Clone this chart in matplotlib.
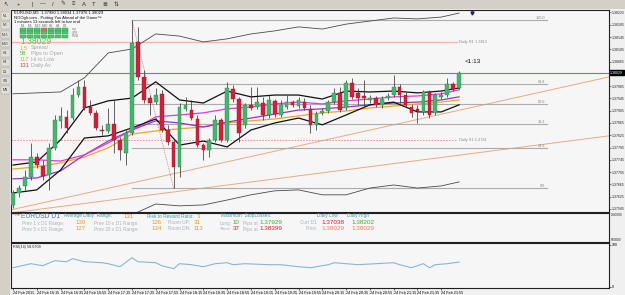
import numpy as np
import matplotlib.pyplot as plt
from matplotlib.patches import Rectangle
from matplotlib.transforms import blended_transform_factory

plt.rcParams['font.family'] = ['Liberation Sans', 'DejaVu Sans']

W, H = 625, 295

# EURUSD M5 candles
opens = [1.37598, 1.37637, 1.37660, 1.37689, 1.37754, 1.37725, 1.37696, 1.37784, 1.37872, 1.37885,
         1.37881, 1.37956, 1.37982, 1.37917, 1.37898, 1.37842, 1.37839, 1.37862, 1.37810, 1.37767,
         1.37833, 1.38129, 1.38015, 1.37946, 1.37933, 1.37960, 1.37842, 1.37803, 1.37722, 1.37911,
         1.37907, 1.37878, 1.37793, 1.37777, 1.37810, 1.37875, 1.37810, 1.37976, 1.37943, 1.37859,
         1.37924, 1.37917, 1.37930, 1.37891, 1.37937, 1.37891, 1.37917, 1.37933, 1.37920, 1.37933,
         1.37911, 1.37859, 1.37898, 1.37904, 1.37933, 1.37963, 1.37914, 1.37995, 1.37963, 1.37953,
         1.37940, 1.37946, 1.37924, 1.37946, 1.37956, 1.37982, 1.37956, 1.37917, 1.37911, 1.37901,
         1.37966, 1.37898, 1.37950, 1.37956, 1.37992, 1.37980]
highs = [1.37647, 1.37663, 1.37712, 1.37800, 1.37767, 1.37745, 1.37800, 1.37891, 1.37917, 1.37907,
         1.37979, 1.38005, 1.38005, 1.37940, 1.37907, 1.37859, 1.37914, 1.37940, 1.37820, 1.37842,
         1.38200, 1.38178, 1.38038, 1.37956, 1.37979, 1.37973, 1.37859, 1.37810, 1.37930, 1.37950,
         1.37940, 1.37891, 1.37800, 1.37816, 1.37891, 1.37881, 1.37999, 1.37989, 1.37950, 1.37930,
         1.37982, 1.37982, 1.37950, 1.37956, 1.37943, 1.37940, 1.37956, 1.37940, 1.37950, 1.37946,
         1.37924, 1.37904, 1.37914, 1.37940, 1.37979, 1.37982, 1.38005, 1.38012, 1.37979, 1.38005,
         1.37956, 1.37953, 1.37953, 1.37963, 1.38021, 1.37992, 1.37966, 1.37927, 1.37924, 1.37973,
         1.37973, 1.37963, 1.37966, 1.38012, 1.37999, 1.38034]
lows = [1.37588, 1.37624, 1.37647, 1.37680, 1.37719, 1.37680, 1.37647, 1.37777, 1.37849, 1.37833,
        1.37875, 1.37950, 1.37907, 1.37891, 1.37842, 1.37826, 1.37833, 1.37767, 1.37745, 1.37728,
        1.37826, 1.38005, 1.37930, 1.37891, 1.37927, 1.37836, 1.37793, 1.37653, 1.37689, 1.37904,
        1.37875, 1.37787, 1.37745, 1.37754, 1.37803, 1.37803, 1.37803, 1.37933, 1.37803, 1.37849,
        1.37907, 1.37911, 1.37875, 1.37881, 1.37885, 1.37885, 1.37911, 1.37917, 1.37914, 1.37907,
        1.37833, 1.37842, 1.37891, 1.37898, 1.37927, 1.37901, 1.37907, 1.37943, 1.37924, 1.37917,
        1.37930, 1.37917, 1.37914, 1.37940, 1.37950, 1.37930, 1.37917, 1.37885, 1.37865, 1.37891,
        1.37881, 1.37891, 1.37943, 1.37950, 1.37969, 1.37976]
closes = [1.37637, 1.37654, 1.37689, 1.37754, 1.37728, 1.37693, 1.37784, 1.37875, 1.37888, 1.37849,
          1.37956, 1.37982, 1.37914, 1.37898, 1.37849, 1.37839, 1.37862, 1.37810, 1.37777, 1.37833,
          1.38126, 1.38015, 1.37940, 1.37930, 1.37956, 1.37842, 1.37803, 1.37722, 1.37917, 1.37924,
          1.37881, 1.37793, 1.37777, 1.37810, 1.37875, 1.37810, 1.37979, 1.37943, 1.37833, 1.37924,
          1.37914, 1.37933, 1.37891, 1.37940, 1.37894, 1.37924, 1.37933, 1.37924, 1.37940, 1.37914,
          1.37859, 1.37894, 1.37904, 1.37933, 1.37963, 1.37907, 1.37995, 1.37950, 1.37946, 1.37946,
          1.37946, 1.37924, 1.37943, 1.37953, 1.37982, 1.37956, 1.37924, 1.37898, 1.37904, 1.37966,
          1.37891, 1.37956, 1.37956, 1.37992, 1.37976, 1.38029]

# indicator lines, sampled every 4 bars
line_bars = [0, 4, 8, 12, 16, 20, 24, 28, 32, 36, 40, 44, 48, 52, 56, 60, 64, 68, 72, 75]
outer_up = [1.37960, 1.37963, 1.37966, 1.38012, 1.38093, 1.38106, 1.38155, 1.38148, 1.38129, 1.38139,
            1.38155, 1.38165, 1.38178, 1.38171, 1.38187, 1.38197, 1.38207, 1.38204, 1.38210, 1.38223]
outer_dn = [1.37452, 1.37452, 1.37458, 1.37484, 1.37523, 1.37566, 1.37601, 1.37595, 1.37598, 1.37614,
            1.37631, 1.37644, 1.37647, 1.37631, 1.37631, 1.37653, 1.37663, 1.37653, 1.37660, 1.37673]
inner_up = [1.37728, 1.37738, 1.37810, 1.37914, 1.37937, 1.37946, 1.37999, 1.37940, 1.37930, 1.37969,
            1.37950, 1.37956, 1.37956, 1.37943, 1.37969, 1.37966, 1.37969, 1.37963, 1.37969, 1.37979]
inner_dn = [1.37637, 1.37647, 1.37712, 1.37816, 1.37823, 1.37849, 1.37878, 1.37793, 1.37806, 1.37787,
            1.37842, 1.37865, 1.37881, 1.37859, 1.37891, 1.37924, 1.37933, 1.37901, 1.37901, 1.37924]
ma_magenta = [1.37745, 1.37745, 1.37741, 1.37761, 1.37800, 1.37842, 1.37885, 1.37891, 1.37898, 1.37911,
              1.37917, 1.37927, 1.37933, 1.37927, 1.37937, 1.37943, 1.37950, 1.37953, 1.37960, 1.37973]
ma_purple = [1.37683, 1.37686, 1.37709, 1.37761, 1.37806, 1.37842, 1.37872, 1.37865, 1.37852, 1.37868,
             1.37881, 1.37894, 1.37907, 1.37911, 1.37917, 1.37924, 1.37930, 1.37933, 1.37940, 1.37950]
ma_orange = [1.37715, 1.37722, 1.37735, 1.37754, 1.37784, 1.37829, 1.37839, 1.37846, 1.37852, 1.37865,
             1.37872, 1.37878, 1.37888, 1.37898, 1.37904, 1.37914, 1.37920, 1.37927, 1.37933, 1.37940]

rsi_bars = [0, 3, 5, 7, 9, 10, 12, 15, 16, 18, 20, 21, 24, 25, 27, 28, 30, 32, 34, 36,
            37, 39, 43, 45, 48, 50, 53, 54, 56, 58, 61, 64, 65, 67, 69, 70, 71, 73, 75]
rsi_vals = [45.2, 54.8, 50.0, 61.9, 59.5, 66.7, 59.5, 57.1, 54.8, 47.6, 69.0, 59.5, 57.1, 50.0, 42.9,
            54.8, 52.4, 47.6, 54.8, 57.1, 52.4, 54.8, 52.4, 52.4, 47.6, 45.2, 52.4, 57.1, 54.8, 52.4,
            54.8, 57.1, 52.4, 45.2, 54.8, 45.2, 52.4, 54.8, 58.67]

bid = 1.38029
daily_r1 = 1.3813
daily_s1 = 1.3781
pivot_end = 74.7
fib_high, fib_low = 1.38200, 1.37653
fib_bars = (20, 27)
fib_ratios = [0.0, 0.236, 0.382, 0.5, 0.618, 1.0]
fib_names = ['0.0', '23.6', '38.2', '50.0', '61.8', '100.0']
fib_end = 89.7
trend1 = ([-0.34, 100.2], [1.37582, 1.38015])
trend2 = ([-0.34, 100.2], [1.37572, 1.37823])

price_ticks = [1.38225, 1.38185, 1.38145, 1.38105, 1.38065, 1.37985, 1.37945, 1.37905, 1.37865,
               1.37825, 1.37785, 1.37745, 1.37705, 1.37665, 1.37625, 1.37585]
time_ticks = list(range(0, 76, 4))
time_labels = ['24 Feb 2011', '24 Feb 16:15', '24 Feb 16:35', '24 Feb 16:55', '24 Feb 17:15',
               '24 Feb 17:35', '24 Feb 17:55', '24 Feb 18:15', '24 Feb 18:35', '24 Feb 18:55',
               '24 Feb 19:15', '24 Feb 19:35', '24 Feb 19:55', '24 Feb 20:15', '24 Feb 20:35',
               '24 Feb 20:55', '24 Feb 21:15', '24 Feb 21:35', '24 Feb 21:55']
timeframes = ['M1', 'M5', 'M15', 'M30', 'H1', 'H4', 'D1', 'W1', 'MN']

XLIM = (-0.34, 100.2)
BG = '#f6f6f6'
GREEN = '#45b56e'
RED = '#d0213c'

fig = plt.figure(figsize=(W / 100, H / 100), dpi=100, facecolor='#f0f0f0')


def box(x0, y0, x1, y1):
    return [x0 / W, 1 - y1 / H, (x1 - x0) / W, (y1 - y0) / H]


def t(x, y, s, size=3.4, color='#101010', **kw):
    fig.text(x / W, 1 - y / H, s, fontsize=size, color=color, va='center', ha=kw.pop('ha', 'left'), **kw)


def rect(x0, y0, x1, y1, **kw):
    fig.add_artist(Rectangle((x0 / W, 1 - y1 / H), (x1 - x0) / W, (y1 - y0) / H,
                             transform=fig.transFigure, **kw))


# ---- main price chart ----
ax = fig.add_axes(box(11, 10, 609, 212), facecolor=BG)
ax.set_xlim(*XLIM)
ax.set_ylim(1.37575, 1.38233)

ax.plot(*trend1, color='#e9aa80', lw=0.7)
ax.plot(*trend2, color='#e9aa80', lw=0.7)
ax.axhline(bid, color='#7474c8', lw=0.8)
ax.plot([XLIM[0], pivot_end], [daily_r1, daily_r1], color='#f5b8ac', lw=1.0)
ax.plot([XLIM[0], pivot_end], [daily_s1, daily_s1], color='#e08a8a', lw=0.6, ls=(0, (2, 1.5)))
ax.text(pivot_end + 0.3, daily_r1, 'Daily R1 1.3813', fontsize=2.8, color='#8a8a8a', va='center')
ax.text(pivot_end + 0.3, daily_s1, 'Daily S1 1.3781', fontsize=2.8, color='#8a8a8a', va='center')

for r, name in zip(fib_ratios, fib_names):
    lvl = fib_low + r * (fib_high - fib_low)
    ax.plot([fib_bars[0], fib_end], [lvl, lvl], color='#ababab', lw=0.8)
    ax.text(fib_end - 0.3, lvl, name, fontsize=2.7, color='#808080', ha='right', va='bottom')
ax.plot(fib_bars, [fib_high, fib_low], color='#e06666', lw=0.6, ls=(0, (1, 1.2)))

ax.plot(line_bars, outer_up, color='#4a4a4a', lw=0.6)
ax.plot(line_bars, outer_dn, color='#4a4a4a', lw=0.6)
ax.plot(line_bars, ma_orange, color='#f2a526', lw=0.9)
ax.plot(line_bars, ma_purple, color='#9c2fc8', lw=0.9)
ax.plot(line_bars, ma_magenta, color='#e23ad8', lw=0.9)
ax.plot(line_bars, inner_up, color='#111111', lw=0.9)
ax.plot(line_bars, inner_dn, color='#111111', lw=0.9)

o = np.array(opens)
c = np.array(closes)
bars = np.arange(len(o))
up = c >= o
ax.vlines(bars, lows, highs, color='#3a3a3a', lw=0.55, zorder=3)
body_lo = np.minimum(o, c)
body_h = np.maximum(np.abs(c - o), 0.000015)
ax.bar(bars, body_h, bottom=body_lo, width=0.62, zorder=4,
       color=np.where(up, GREEN, RED), edgecolor=np.where(up, '#2f8a52', '#9c1428'), lw=0.3)

trans = blended_transform_factory(ax.transData, ax.transAxes)
ax.plot([77.1], [0.985], marker='v', ms=2.2, color='#202060', transform=trans, clip_on=False)
ax.text(75.9, 1.38064, '<1:13', fontsize=4.6, color='#111111', va='center')

ax.yaxis.tick_right()
ax.set_yticks(price_ticks)
ax.set_yticklabels([f'{p:.5f}' for p in price_ticks])
ax.tick_params(axis='y', labelsize=2.5, length=1.2, pad=0.6, width=0.4, colors='#222222')
ax.set_xticks([])
for s in ax.spines.values():
    s.set_color('#202020')
    s.set_linewidth(0.8)
ax.text(1.002, bid, f'{bid:.5f}', transform=blended_transform_factory(ax.transAxes, ax.transData),
        fontsize=2.5, color='white', va='center', ha='left',
        bbox=dict(boxstyle='square,pad=0.15', fc='black', ec='black'))

# ---- info panel ----
axi = fig.add_axes(box(11, 213, 609, 242), facecolor=BG)
axi.set_xticks([])
axi.set_yticks([])
for s in axi.spines.values():
    s.set_color('#202020')
    s.set_linewidth(0.8)

GRAY = '#a9b1c2'
TEAL = '#3c9bb0'
ORANGE = '#eb9524'
t(12.5, 214.3, 'T3(Qp)', size=1.9, color='#555555')
t(21, 216.8, 'EURUSD D1', size=4.9, color='#4a7fb0')
t(64, 216, 'Average Daily  Range:', color=TEAL)
t(124, 216, '131', size=4.4, color=ORANGE)
t(147, 216, 'Risk to Reward Ratio:', color=TEAL)
t(197, 216, '3', size=4.4, color=ORANGE)
t(221, 216, 'Maximum  StopLosses:', color=TEAL)
t(317, 216, 'Daily Low', color=TEAL)
t(347, 216, 'Daily High', color=TEAL)

t(22, 223, 'Prev 1 x D1 Range:', color=GRAY)
t(76, 223, '139', size=4.4, color=ORANGE)
t(94, 223, 'Prev 10 x D1 Range:', color=GRAY)
t(152, 223, '126', size=4.4, color=ORANGE)
t(168, 223, 'Room UP:', color=GRAY)
t(194, 223, '31', size=4.4, color=ORANGE)
t(220, 223, 'Long:', color=GRAY)
t(233, 223, '10', size=4.4, color='#2fb02f')
t(243, 223, 'Pips at', color=GRAY)
t(259, 223, '1.37929', size=4.6, color='#2fb02f')
t(300, 223, 'Curr D1', color=GRAY)
t(321, 223, '1.37038', size=4.6, color='#d01f1f')
t(351, 223, '1.38202', size=4.6, color='#2fb02f')

t(22, 229, 'Prev 5 x D1 Range:', color=GRAY)
t(76, 229, '127', size=4.4, color=ORANGE)
t(94, 229, 'Prev 20 x D1 Range:', color=GRAY)
t(152, 229, '134', size=4.4, color=ORANGE)
t(168, 229, 'Room DN:', color=GRAY)
t(194, 229, '113', size=4.4, color=ORANGE)
t(220, 229, 'Short:', size=3.2, color=GRAY)
t(233, 229, '37', size=4.4, color='#d01f1f')
t(243, 229, 'Pips at', color=GRAY)
t(259, 229, '1.38399', size=4.6, color='#d01f1f')
t(317, 229, 'Price', color=GRAY, ha='right')
t(321, 229, '1.38029', size=4.6, color='#f27a5a')
t(351, 229, '1.38029', size=4.6, color='#f27a5a')
t(610.5, 215.5, '-900000', size=2.3, color='#222222')
t(610.5, 240, '900000', size=2.3, color='#222222')

# ---- RSI panel ----
axr = fig.add_axes(box(11, 243, 609, 288), facecolor=BG)
axr.set_xlim(*XLIM)
axr.set_ylim(-3, 104)
axr.plot(rsi_bars, rsi_vals, color='#86b6de', lw=0.8)
axr.yaxis.tick_right()
axr.set_yticks([0, 100])
axr.set_yticklabels(['0', '100'])
axr.tick_params(axis='y', labelsize=2.5, length=1.2, pad=0.6, width=0.4)
axr.set_xticks(time_ticks)
axr.set_xticklabels(time_labels)
axr.tick_params(axis='x', labelsize=2.7, length=1.5, pad=0.8, width=0.4)
for lab in axr.get_xticklabels():
    lab.set_horizontalalignment('left')
for s in axr.spines.values():
    s.set_color('#202020')
    s.set_linewidth(0.8)
t(13, 247, 'RSI(14) 58.6709', size=2.7, color='#222222')

# ---- header block in the chart ----
t(14, 13, 'EURUSD,M5  1.37980 1.38034 1.37976 1.38029', size=3.0)
t(14, 17.5, 'NOOgh.com - Putting You Ahead of the Game\u2122', size=3.0)
t(14, 22, '1 minutes 13 seconds left to bar end', size=3.0)
for k, name in enumerate(['M1', 'M5', 'M15', 'M30', 'H1', 'H4', 'D1']):
    t(21 + k * 7, 26, name, size=2.3, color='#666666')
for r, name in enumerate(['sqa', 'STR', 'EMA']):
    t(72, 29.3 + r * 3.4, name, size=2.3, color='#888888')
    for k in range(7):
        fill = '#e06a6a' if (r == 0 and k == 3) else '#4cc470'
        rect(20 + k * 7, 27.8 + r * 3.4, 26.4 + k * 7, 30.8 + r * 3.4, fc=fill, ec='#2e9a50', lw=0.3)
t(20, 42, '1.38029', size=6.2, color='#3fd14a')
stats = [('1.5', 'Spread', '#f0a030'), ('58', 'Pips to Open', '#44c040'),
         ('117', 'Hi to Low', '#f0a030'), ('131', 'Daily Av', '#c04a2a')]
for k, (num, lab, col) in enumerate(stats):
    t(20, 48 + k * 5.7, num, size=4.2, color=col)
    t(31, 48 + k * 5.7, lab, size=4.0, color='#a8a8a8')

# ---- terminal chrome: toolbar and timeframe column ----
rect(0, 0, W, 9, fc='#d4d0c8', ec='none')
rect(0, 8.6, W, 9.4, fc='#a09c94', ec='none')
for x, g in zip([6, 18, 32, 43, 53, 63, 73, 84, 94, 105, 116],
                ['\u2196', '+', '|', '\u2014', '/', '\u270e', '\u2261', 'A', 'T', '\u2263', '\u21c5']):
    t(x, 4.3, g, size=4.2, color='#333333', ha='center')
rect(0, 9.4, 10, H, fc='#d4d0c8', ec='none')
for k, name in enumerate(timeframes):
    y = 16 + k * 9.25
    rect(1, y - 3.6, 9.5, y + 3.6, fc='#e2dfd8', ec='#a8a49c', lw=0.3)
    t(5.2, y, name, size=2.4, color='#333333', ha='center')

fig.savefig('out.png', dpi=100, facecolor=fig.get_facecolor())
